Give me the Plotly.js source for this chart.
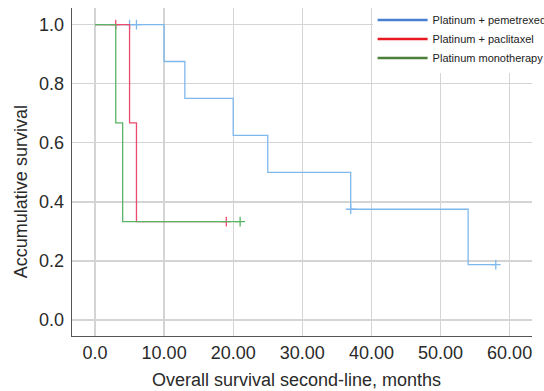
<!DOCTYPE html>
<html>
<head>
<meta charset="utf-8">
<script src="https://cdn.plot.ly/plotly-3.0.1.min.js"></script>
<style>html,body{margin:0;padding:0;background:#fff;}#chart{width:544px;height:391px;}</style>
</head>
<body>
<div id="chart"></div>
<script>
// Group names
var groupNames = ["Platinum + pemetrexed", "Platinum + paclitaxel", "Platinum monotherapy"];

// Kaplan-Meier step points (months, survival)
var pemTime = [0, 10, 13, 20, 25, 37, 54, 58];
var pemSurv = [1.0, 0.875, 0.75, 0.625, 0.5, 0.375, 0.1875, 0.1875];
var pemCensorTime = [5, 6, 37, 58];
var pemCensorSurv = [1.0, 1.0, 0.375, 0.1875];

var paclTime = [0, 5, 6, 19];
var paclSurv = [1.0, 0.667, 0.333, 0.333];
var paclCensorTime = [3, 19];
var paclCensorSurv = [1.0, 0.333];

var monoTime = [0, 3, 4, 21];
var monoSurv = [1.0, 0.667, 0.333, 0.333];
var monoCensorTime = [21];
var monoCensorSurv = [0.333];

// Axis ticks
var xTickVals = [0, 10, 20, 30, 40, 50, 60];
var xTickText = ["0.0", "10.00", "20.00", "30.00", "40.00", "50.00", "60.00"];
var yTickVals = [0, 0.2, 0.4, 0.6, 0.8, 1.0];
var yTickText = ["0.0", "0.2", "0.4", "0.6", "0.8", "1.0"];

var curveColors = ["#7fb8ec", "#ea4a6e", "#58b566"];
var legendColors = ["#4a7fd1", "#e8191f", "#4b7f3a"];

function curve(t, s, c) {
  return {x: t, y: s, type: "scatter", mode: "lines", line: {shape: "hv", color: c, width: 1.3},
    showlegend: false, hoverinfo: "skip"};
}
function censor(t, s, c) {
  return {x: t, y: s, type: "scatter", mode: "markers",
    marker: {symbol: "cross-thin", size: 7, line: {color: c, width: 1.3}, color: c},
    showlegend: false, hoverinfo: "skip"};
}
function legendItem(name, c) {
  return {x: [null], y: [null], type: "scatter", mode: "lines", name: name,
    line: {color: c, width: 2.5}, showlegend: true};
}

var data = [
  curve(pemTime, pemSurv, curveColors[0]),
  censor(pemCensorTime, pemCensorSurv, curveColors[0]),
  curve(paclTime, paclSurv, curveColors[1]),
  censor(paclCensorTime, paclCensorSurv, curveColors[1]),
  curve(monoTime, monoSurv, curveColors[2]),
  censor(monoCensorTime, monoCensorSurv, curveColors[2]),
  legendItem(groupNames[0], legendColors[0]),
  legendItem(groupNames[1], legendColors[1]),
  legendItem(groupNames[2], legendColors[2])
];

var font = "Liberation Sans, Arial, Helvetica, sans-serif";

var layout = {
  width: 544, height: 391,
  margin: {l: 72, r: 12, t: 8, b: 55, autoexpand: false},
  paper_bgcolor: "#ffffff", plot_bgcolor: "#ffffff",
  font: {family: font, color: "#2a2a2a", size: 18},
  xaxis: {
    range: [-3.33, 63.24], tickvals: xTickVals, ticktext: xTickText,
    showgrid: true, gridcolor: "#d4d4d4", gridwidth: 1.3, zeroline: false,
    showline: true, linecolor: "#555555", linewidth: 1.3, ticks: "",
    automargin: false, ticklabelstandoff: 0, tickfont: {size: 18, color: "#2a2a2a"}
  },
  yaxis: {
    range: [-0.054, 1.056], tickvals: yTickVals, ticktext: yTickText,
    showgrid: true, gridcolor: "#d4d4d4", gridwidth: 1.3, zeroline: false,
    showline: true, linecolor: "#555555", linewidth: 1.3, ticks: "",
    automargin: false, ticklabelstandoff: 3, tickfont: {size: 18, color: "#2a2a2a"}
  },
  showlegend: true,
  legend: {
    x: 0.6535, y: 1.0076, xanchor: "left", yanchor: "top",
    bgcolor: "#ffffff", borderwidth: 0, itemwidth: 50,
    font: {family: font, size: 11, color: "#222222"},
    tracegroupgap: 0
  },
  annotations: [
    {text: "Overall survival second-line, months", xref: "paper", yref: "paper",
      x: 0.487, y: -0.135, xanchor: "center", yanchor: "middle", showarrow: false,
      font: {family: font, size: 18, color: "#2a2a2a"}},
    {text: "Accumulative survival", xref: "paper", yref: "paper",
      x: -0.112, y: 0.44, xanchor: "center", yanchor: "middle", showarrow: false, textangle: -90,
      font: {family: font, size: 18, color: "#2a2a2a"}}
  ]
};

Plotly.newPlot("chart", data, layout, {displayModeBar: false, staticPlot: true});
</script>
</body>
</html>
